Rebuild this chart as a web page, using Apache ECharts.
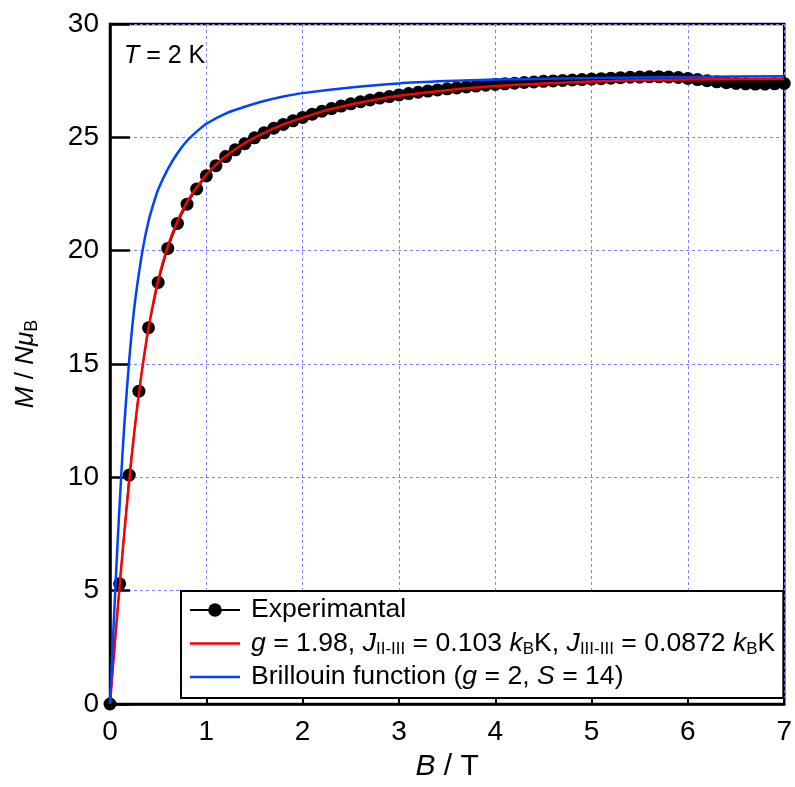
<!DOCTYPE html>
<html><head><meta charset="utf-8">
<script src="https://cdn.jsdelivr.net/npm/echarts/dist/echarts.min.js"></script>
<style>html,body{margin:0;padding:0;background:#fff}#c{width:795px;height:787px}</style>
</head><body><div id="c"></div>
<script>
// Experimental data (B in T, M in N muB)
const expB = [0.0,0.1,0.2,0.3,0.4,0.5,0.6,0.7,0.8,0.9,1.0,1.1,1.2,1.3,1.4,1.5,1.6,1.7,1.8,1.9,2.0,2.1,2.2,2.3,2.4,2.5,2.6,2.7,2.8,2.9,3.0,3.1,3.2,3.3,3.4,3.5,3.6,3.7,3.8,3.9,4.0,4.1,4.2,4.3,4.4,4.5,4.6,4.7,4.8,4.9,5.0,5.1,5.2,5.3,5.4,5.5,5.6,5.7,5.8,5.9,6.0,6.1,6.2,6.3,6.4,6.5,6.6,6.7,6.8,6.9,7.0];
const expM = [0,5.3,10.1,13.8,16.6,18.6,20.1,21.2,22.05,22.72,23.3,23.75,24.15,24.45,24.72,24.98,25.2,25.4,25.57,25.73,25.88,26.02,26.15,26.27,26.38,26.48,26.57,26.65,26.73,26.8,26.87,26.93,26.99,27.04,27.09,27.14,27.18,27.22,27.26,27.3,27.33,27.36,27.39,27.42,27.44,27.47,27.49,27.51,27.53,27.55,27.57,27.59,27.61,27.63,27.65,27.66,27.67,27.67,27.66,27.64,27.6,27.55,27.5,27.45,27.41,27.38,27.36,27.35,27.35,27.36,27.38];
// Fit curve (red)
const fitB = [0,0.05,0.1,0.15,0.2,0.25,0.3,0.35,0.4,0.5,0.6,0.7,0.8,0.9,1.0,1.1,1.2,1.4,1.6,1.8,2.0,2.25,2.5,2.75,3.0,3.5,4.0,4.5,5.0,5.5,6.0,6.5,7.0];
const fitM = [0,2.65,5.2,7.6,9.85,11.9,13.7,15.25,16.6,18.7,20.2,21.3,22.15,22.8,23.35,23.8,24.17,24.75,25.2,25.57,25.87,26.2,26.45,26.66,26.83,27.08,27.26,27.38,27.46,27.52,27.55,27.57,27.58];
// Brillouin function (blue)
const brilB = [0,0.02,0.05,0.075,0.1,0.125,0.15,0.2,0.25,0.3,0.35,0.4,0.45,0.5,0.6,0.7,0.8,0.9,1.0,1.2,1.4,1.6,1.8,2.0,2.5,3.0,3.5,4.0,5.0,6.0,7.0];
const brilM = [0,1.85,4.6,6.8,8.8,10.7,12.4,15.2,17.4,19.0,20.3,21.3,22.05,22.7,23.6,24.3,24.85,25.25,25.6,26.05,26.35,26.6,26.8,26.95,27.2,27.38,27.48,27.55,27.62,27.66,27.7];

const FONT = 'Liberation Sans, Arial, sans-serif';
const zip = (a, b) => a.map((v, i) => [v, b[i]]);
const LINE_ICON = 'path://M0 0H50V2.5H0Z';

const chart = echarts.init(document.getElementById('c'), null, {renderer: 'canvas'});
const legendNames = {
  exp: '{gap| }Experimantal',
  fit: '{gap| }{i|g} = 1.98, {i|J}{s|II-III} = 0.103 {i|k}{s|B}K, {i|J}{s|III-III} = 0.0872 {i|k}{s|B}K',
  bril: '{gap| }Brillouin function ({i|g} = 2, {i|S} = 14)'
};
chart.setOption({
  animation: false,
  backgroundColor: '#fff',
  textStyle: {fontFamily: FONT},
  title: {
    text: '{i|T} = 2 K',
    left: 119, top: 39,
    textStyle: {fontFamily: FONT, fontSize: 25, fontWeight: 'normal', color: '#000',
      rich: {i: {fontFamily: FONT, fontSize: 25, fontStyle: 'italic', color: '#000'}}}
  },
  grid: {left: 110, right: 8, top: 24, bottom: 83, show: true, borderColor: '#000', borderWidth: 2.5, backgroundColor: 'transparent'},
  legend: {
    orient: 'vertical', left: 181, top: 591,
    backgroundColor: '#fff', borderColor: '#000', borderWidth: 2,
    padding: [5, 8, 7, 8], itemGap: 5.5, itemWidth: 50, itemHeight: 17,
    symbolKeepAspect: true,
    data: ['exp', {name: 'fit', icon: LINE_ICON}, {name: 'bril', icon: LINE_ICON}],
    formatter: n => legendNames[n],
    textStyle: {fontFamily: FONT, fontSize: 26.6, color: '#000', lineHeight: 28,
      rich: {
        gap: {width: 6, fontSize: 10},
        i: {fontFamily: FONT, fontSize: 26.6, fontStyle: 'italic', color: '#000', lineHeight: 28},
        s: {fontFamily: FONT, fontSize: 17, color: '#000', verticalAlign: 'bottom', lineHeight: 16}
      }}
  },
  xAxis: {
    type: 'value', min: 0, max: 7, interval: 1,
    name: '{i|B} / T', nameLocation: 'middle', nameGap: 48,
    nameTextStyle: {fontFamily: FONT, fontSize: 30, color: '#000',
      rich: {i: {fontFamily: FONT, fontSize: 30, fontStyle: 'italic', color: '#000'}}},
    axisLine: {show: true, onZero: false, lineStyle: {color: '#000', width: 2.5}},
    axisTick: {show: true, inside: true, length: 6, lineStyle: {color: '#000', width: 2}},
    axisLabel: {fontFamily: FONT, fontSize: 28, color: '#000', margin: 14},
    splitLine: {show: true, lineStyle: {color: '#8080ff', type: [3, 3], width: 1}}
  },
  yAxis: {
    type: 'value', min: 0, max: 30, interval: 5,
    name: '{i|M} / {i|Nμ}{s|B}', nameLocation: 'middle', nameGap: 69,
    nameTextStyle: {fontFamily: FONT, fontSize: 26, color: '#000',
      rich: {
        i: {fontFamily: FONT, fontSize: 26, fontStyle: 'italic', color: '#000', lineHeight: 30},
        s: {fontFamily: FONT, fontSize: 18, color: '#000', verticalAlign: 'bottom', lineHeight: 18}
      }},
    axisLine: {show: true, onZero: false, lineStyle: {color: '#000', width: 2.5}},
    axisTick: {show: true, inside: true, length: 20, lineStyle: {color: '#000', width: 2.5}},
    axisLabel: {fontFamily: FONT, fontSize: 28, color: '#000', margin: 11},
    splitLine: {show: true, lineStyle: {color: '#8080ff', type: [3, 3], width: 1}}
  },
  series: [
    {name: 'exp', type: 'line', data: zip(expB, expM), symbol: 'circle', symbolSize: 13,
      showAllSymbol: true, clip: false, z: 2,
      itemStyle: {color: '#000'}, lineStyle: {color: '#000', width: 1.5}},
    {name: 'fit', type: 'line', data: zip(fitB, fitM), symbol: 'none', smooth: 0.25,
      clip: false, z: 3, itemStyle: {color: '#ff0000'}, lineStyle: {color: '#ff0000', width: 2.5}},
    {name: 'bril', type: 'line', data: zip(brilB, brilM), symbol: 'none', smooth: 0.25,
      clip: false, z: 4, itemStyle: {color: '#0040ff'}, lineStyle: {color: '#0040ff', width: 2.5}}
  ]
});
</script></body></html>
